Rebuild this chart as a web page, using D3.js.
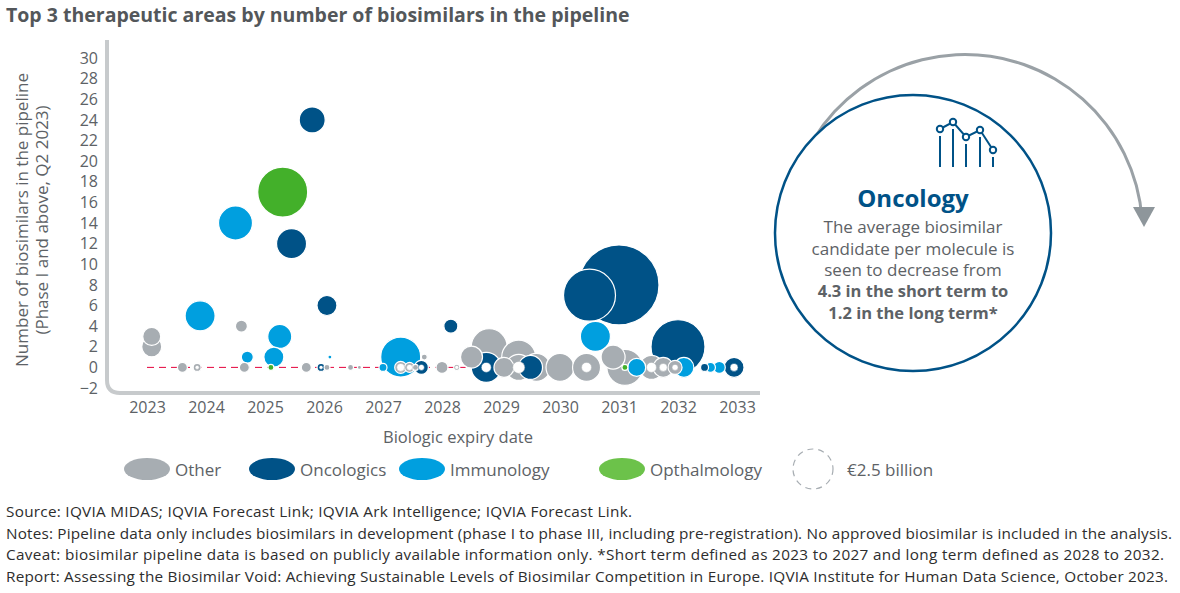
<!DOCTYPE html>
<html><head><meta charset="utf-8">
<script src="https://cdn.jsdelivr.net/npm/d3@7"></script>
<style>body{margin:0;background:#fff;font-family:"Open Sans",sans-serif}</style>
</head><body>
<svg id="c" width="1180" height="593"></svg>
<script>
const categories=["Other","Oncologics","Immunology","Opthalmology"];
const colors=["#a7adb2","#005287","#009fdf","#43b02a"];
const yTicks=[-2,0,2,4,6,8,10,12,14,16,18,20,22,24,26,28,30];
const xTicks=[2023,2024,2025,2026,2027,2028,2029,2030,2031,2032,2033];
// [year, biosimilars, sales(relative size), category index, hole(relative)]
const bubbles=[
 [2031.0,8,40,1,0],[2030.5,7,26,1,0],[2032.0,2,27,1,0],
 [2025.3,17,25,3,0],[2024.5,14,17,2,0],[2025.45,12,15,1,0],[2025.8,24,13,1,0],
 [2023.9,5,15,2,0],[2026.05,6,10,1,0],[2030.6,3,15,2,0],
 [2023.08,2,10,0,0],[2023.08,3,9,0,0],[2024.6,4,6,0,0],[2024.7,1,6,2,0],
 [2025.15,1,10,2,0],[2025.25,3,12,2,0],[2027.3,1,20,2,0],[2028.15,4,7,1,0],
 [2028.5,1,11,0,0],[2028.8,2,18,0,0],[2029.3,1,17,0,0],
 [2028.75,0,15,1,5],[2029.05,0,10,0,0],[2029.3,0,13,0,6],[2029.5,0,12,1,0],
 [2029.6,0,14,0,0],[2030.0,0,14,0,0],[2030.45,0,14,0,5],[2030.9,1,12,0,0],
 [2031.1,0,18,0,0],[2031.3,0,9,2,0],[2031.55,0,12,0,5],[2031.75,0,10,0,4],
 [2032.1,0,10,2,0],[2031.95,0,7,0,3],[2032.45,0,4,1,0],[2032.55,0,5,2,0],
 [2032.7,0,6,2,0],[2032.95,0,10,1,4],[2031.1,0,3,3,0],
 [2023.6,0,5,0,0],[2023.85,0,4,0,2],[2024.65,0,5,0,0],[2025.1,0,3,3,0],
 [2025.7,0,5,0,0],[2025.95,0,4,1,2],[2026.05,0,3,0,0],[2026.1,1,2,2,0],
 [2026.45,0,3,0,0],[2026.6,0,2,0,0],[2027.0,0,4,2,0],[2027.3,0,6,0,4],
 [2027.45,0,5,0,3],[2027.65,0,7,1,3],[2027.7,1,3,0,0],[2027.55,0,3,0,0],
 [2028.0,0,6,0,0],[2028.25,0,3,0,2]
];
const svg=d3.select("#c");
const gray="#5d6266";
svg.append("text").attr("x",6).attr("y",22).attr("font-size",19.5).attr("font-weight",700).attr("fill","#53575a").text("Top 3 therapeutic areas by number of biosimilars in the pipeline");
const x=d3.scaleLinear().domain([2023,2033]).range([147,737]);
const y=d3.scaleLinear().domain([-2,30]).range([388,58]);
svg.append("path").attr("d","M107,40 L107,380 Q107,393 120,393 L760,393").attr("fill","none").attr("stroke","#c7cacc").attr("stroke-width",4);
const ya=svg.append("g").attr("transform","translate(98,0)").call(d3.axisLeft(y).tickValues(yTicks).tickSize(0).tickPadding(0));
ya.select(".domain").remove();
ya.selectAll("text").attr("font-size",16).attr("fill",gray).attr("font-family","Open Sans");
const xa=svg.append("g").attr("transform","translate(0,400)").call(d3.axisBottom(x).tickValues(xTicks).tickFormat(d3.format("d")).tickSize(0).tickPadding(2));
xa.select(".domain").remove();
xa.selectAll("text").attr("font-size",16).attr("fill",gray).attr("font-family","Open Sans");
svg.append("text").attr("x",458).attr("y",443).attr("text-anchor","middle").attr("font-size",16.5).attr("fill",gray).text("Biologic expiry date");
const yl=svg.append("text").attr("transform","translate(28,220) rotate(-90)").attr("text-anchor","middle").attr("font-size",17).attr("fill",gray);
yl.append("tspan").attr("x",0).attr("dy",0).text("Number of biosimilars in the pipeline");
yl.append("tspan").attr("x",0).attr("dy",20).text("(Phase I and above, Q2 2023)");
svg.append("line").attr("x1",x(2023)).attr("x2",x(2028.4)).attr("y1",y(0)).attr("y2",y(0)).attr("stroke","#e4003b").attr("stroke-width",1).attr("stroke-dasharray","7,5");
const r=d3.scaleLinear().domain([0,40]).range([0,40]);
const sorted=bubbles.slice().sort((a,b)=>b[2]-a[2]);
svg.append("g").selectAll("circle").data(sorted).join("circle")
 .attr("cx",d=>x(d[0])).attr("cy",d=>y(d[1])).attr("r",d=>r(d[2]))
 .attr("fill",d=>colors[d[3]]).attr("stroke","#fff").attr("stroke-width",1.2);
svg.append("g").selectAll("circle").data(sorted.filter(d=>d[4]>0)).join("circle")
 .attr("cx",d=>x(d[0])).attr("cy",d=>y(d[1])).attr("r",d=>r(d[4]))
 .attr("fill","#fff").attr("stroke",d=>colors[d[3]]).attr("stroke-width",1).attr("stroke-opacity",0.5);
const leg=[[147,"Other"],[272,"Oncologics"],[422,"Immunology"],[622,"Opthalmology"]];
const legColors=["#a7adb2","#005287","#009fdf","#6cc24a"];
leg.forEach((l,i)=>{
 svg.append("ellipse").attr("cx",l[0]).attr("cy",469).attr("rx",23).attr("ry",11).attr("fill",legColors[i]);
 svg.append("text").attr("x",l[0]+28).attr("y",476).attr("font-size",17).attr("fill",gray).text(l[1]);
});
svg.append("circle").attr("cx",813).attr("cy",469).attr("r",20).attr("fill","none").attr("stroke","#a7adb2").attr("stroke-dasharray","6,5").attr("stroke-width",1.2);
svg.append("text").attr("x",847).attr("y",476).attr("font-size",17).attr("fill",gray).text("€2.5  billion");
const notes=["Source: IQVIA MIDAS; IQVIA Forecast Link; IQVIA Ark Intelligence; IQVIA Forecast Link.",
"Notes: Pipeline data only includes biosimilars in development (phase I to phase III, including pre-registration). No approved biosimilar is included in the analysis.",
"Caveat: biosimilar pipeline data is based on publicly available information only. *Short term defined as 2023 to 2027 and long term defined as 2028 to 2032.",
"Report: Assessing the Biosimilar Void: Achieving Sustainable Levels of Biosimilar Competition in Europe. IQVIA Institute for Human Data Science, October 2023."];
notes.forEach((t,i)=>svg.append("text").attr("x",6).attr("y",517+i*21.5).attr("font-size",15.3).attr("fill","#2d2d2d").attr("textLength",i==0?626:(i==1?1166:(i==2?1158:1162))).text(t));
const cx=913,cy=233;
svg.append("path").attr("transform","translate(965,232)").attr("d",d3.arc().innerRadius(176).outerRadius(179).startAngle(-Math.PI/2-0.03).endAngle(Math.PI/2-0.07)()).attr("fill","#9aa1a6");
svg.append("path").attr("d","M1133,207 L1155,207 L1144,227 Z").attr("fill","#8e969b");
svg.append("circle").attr("cx",cx).attr("cy",cy).attr("r",138).attr("fill","#fff").attr("stroke","#005287").attr("stroke-width",2.5);
const ic=svg.append("g").attr("stroke","#005287").attr("stroke-width",2).attr("fill","none");
const pts=[[940,129],[953,122],[966,137],[980,130],[993,150]];
ic.append("polyline").attr("points",pts.map(p=>p.join(",")).join(" "));
pts.forEach((p,i)=>{ic.append("line").attr("x1",p[0]).attr("x2",p[0]).attr("y1",p[1]+7).attr("y2",167);ic.append("circle").attr("cx",p[0]).attr("cy",p[1]).attr("r",3.2).attr("fill","#fff");});
svg.append("text").attr("x",cx).attr("y",207).attr("text-anchor","middle").attr("font-size",24).attr("font-weight",700).attr("fill","#005287").text("Oncology");
["The average biosimilar","candidate per molecule is","seen to decrease from"].forEach((t,i)=>svg.append("text").attr("x",cx).attr("y",233+i*21.5).attr("text-anchor","middle").attr("font-size",17).attr("fill",gray).text(t));
["4.3 in the short term to","1.2 in the long term*"].forEach((t,i)=>svg.append("text").attr("x",cx).attr("y",297+i*21.5).attr("text-anchor","middle").attr("font-size",16.5).attr("font-weight",700).attr("fill",gray).text(t));
</script>
</body></html>
